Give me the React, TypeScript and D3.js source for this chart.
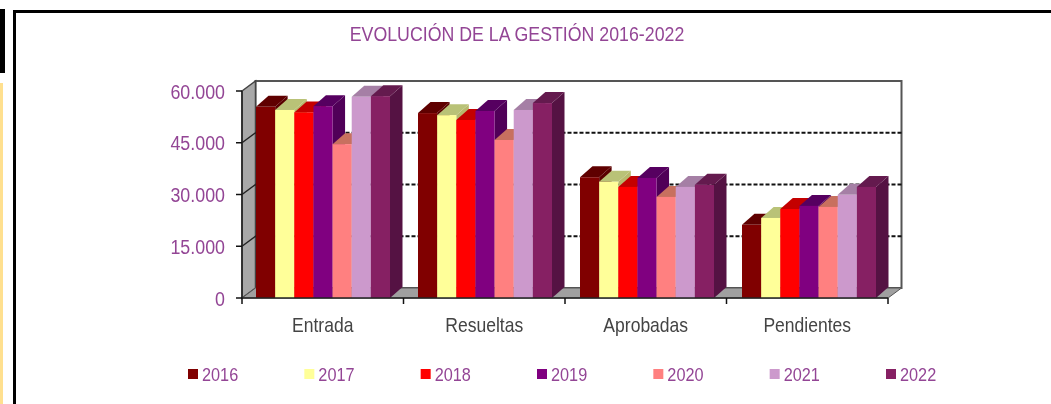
import React from "react";
import * as d3 from "d3";

const categories = ["Entrada", "Resueltas", "Aprobadas", "Pendientes"];
const years = ["2016", "2017", "2018", "2019", "2020", "2021", "2022"];
const v2016 = [55400, 53600, 35000, 21200];
const v2017 = [54500, 53000, 33700, 23200];
const v2018 = [53800, 51600, 32200, 25800];
const v2019 = [55600, 54200, 34800, 26700];
const v2020 = [44600, 45800, 29300, 26400];
const v2021 = [58300, 54500, 32200, 29900];
const v2022 = [58500, 56500, 32800, 32200];
const series = [v2016, v2017, v2018, v2019, v2020, v2021, v2022];
const frontColors = ["#800000", "#FFFF99", "#FF0000", "#800080", "#FF8080", "#CC99CC", "#862063"];
const topColors = ["#5f0000", "#b9c277", "#c40000", "#560060", "#c8705f", "#a57fa5", "#641a4e"];
const sideColors = ["#5a0000", "#b8b86c", "#b00000", "#500058", "#b86060", "#8f6d8f", "#551243"];
const yTicks = [0, 15000, 30000, 45000, 60000];
const gridTicks = [15000, 30000, 45000];

const FONT = "'Liberation Sans', sans-serif";
const PURPLE = "#934595";
const DX = 13.5;
const DY = -10;
const BAR_DX = 12.5;
const BAR_DY = -11;

const y = d3.scaleLinear().domain([0, 60000]).range([298, 91]);
const x0 = d3.scaleBand().domain(categories).range([242, 888]);
const groupX = d3.scalePoint().domain(categories).range([256, 742]);
const inner = d3.scaleBand().domain(years).range([0, 134]);
const tickFormat = (v: number) => (v === 0 ? "0" : d3.format(",")(v).replace(",", "."));
const legendX = d3.scalePoint().domain(years).range([188, 886]);
const pts = (a: [number, number][]) => a.map((p) => p.join(",")).join(" ");

function NarrowText({ x, y: ty, sx, anchor = "start", size, fill, children }: any) {
  return (
    <text
      transform={`translate(${x},${ty}) scale(${sx},1)`}
      textAnchor={anchor}
      dominantBaseline="central"
      fontSize={size}
      fill={fill}
    >
      {children}
    </text>
  );
}

export default function App() {
  const xL = 242, xR = 888, yB = y(0), yT = y(60000);
  return (
    <svg width={1051} height={404} style={{ position: "absolute", left: 0, top: 0, background: "#fff", filter: "blur(0.35px)" }} fontFamily={FONT}>
      <rect x={0} y={9} width={5} height={64} fill="#000" />
      <rect x={0} y={83} width={3} height={321} fill="#FFE08F" />
      <rect x={13} y={10} width={1038} height={3} fill="#000" />
      <rect x={13} y={10} width={3} height={394} fill="#000" />

      <NarrowText x={517} y={33} sx={0.846} anchor="middle" size={21} fill={PURPLE}>
        EVOLUCIÓN DE LA GESTIÓN 2016-2022
      </NarrowText>

      <rect x={xL + DX} y={yT + DY} width={xR - xL} height={yB - yT} fill="#fff" stroke="#555" strokeWidth={2} />
      <polygon points={pts([[xL, yT], [xL + DX, yT + DY], [xL + DX, yB + DY], [xL, yB]])} fill="#a8a8a8" stroke="#444" strokeWidth={1.5} />
      <polygon points={pts([[xL, yB], [xL + DX, yB + DY], [xR + DX, yB + DY], [xR, yB]])} fill="#a0a0a0" stroke="#555" strokeWidth={1} />

      {gridTicks.map((t) => (
        <line key={t} x1={xL + DX} x2={xR + DX} y1={y(t) + DY} y2={y(t) + DY} stroke="#111" strokeWidth={2} strokeDasharray="4 2" />
      ))}
      {gridTicks.map((t) => (
        <line key={t} x1={xL} x2={xL + DX} y1={y(t)} y2={y(t) + DY} stroke="#222" strokeWidth={1.5} />
      ))}

      {categories.map((c, ci) =>
        years.map((yr, si) => {
          const bx = (groupX(c) as number) + (inner(yr) as number);
          const w = inner.bandwidth();
          const top = y(series[si][ci]);
          return (
            <g key={c + yr}>
              <polygon points={pts([[bx + w, top], [bx + w + BAR_DX, top + BAR_DY], [bx + w + BAR_DX, yB + BAR_DY], [bx + w, yB]])} fill={sideColors[si]} />
              <polygon points={pts([[bx, top], [bx + BAR_DX, top + BAR_DY], [bx + w + BAR_DX, top + BAR_DY], [bx + w, top]])} fill={topColors[si]} />
              <rect x={bx} y={top} width={w} height={yB - top} fill={frontColors[si]} />
            </g>
          );
        })
      )}

      <line x1={xL} x2={xL} y1={yT} y2={yB} stroke="#222" strokeWidth={1.5} />
      <line x1={xL} x2={xR} y1={yB} y2={yB} stroke="#222" strokeWidth={1.5} />
      {yTicks.map((t) => (
        <g key={t}>
          <line x1={236} x2={xL} y1={y(t)} y2={y(t)} stroke="#111" strokeWidth={1.5} />
          <NarrowText x={225} y={y(t)} sx={0.85} anchor="end" size={21} fill={PURPLE}>
            {tickFormat(t)}
          </NarrowText>
        </g>
      ))}
      {[...categories.map((c) => x0(c) as number), xR].map((tx) => (
        <line key={tx} x1={tx} x2={tx} y1={yB} y2={yB + 6} stroke="#111" strokeWidth={1.5} />
      ))}
      {categories.map((c) => (
        <NarrowText key={c} x={(x0(c) as number) + x0.bandwidth() / 2} y={324} sx={0.835} anchor="middle" size={21} fill="#444">
          {c}
        </NarrowText>
      ))}

      {years.map((yr, si) => (
        <g key={yr}>
          <rect x={legendX(yr) as number} y={369} width={10} height={10} fill={frontColors[si]} />
          <NarrowText x={(legendX(yr) as number) + 14} y={375} sx={0.857} size={19} fill={PURPLE}>
            {yr}
          </NarrowText>
        </g>
      ))}
    </svg>
  );
}
